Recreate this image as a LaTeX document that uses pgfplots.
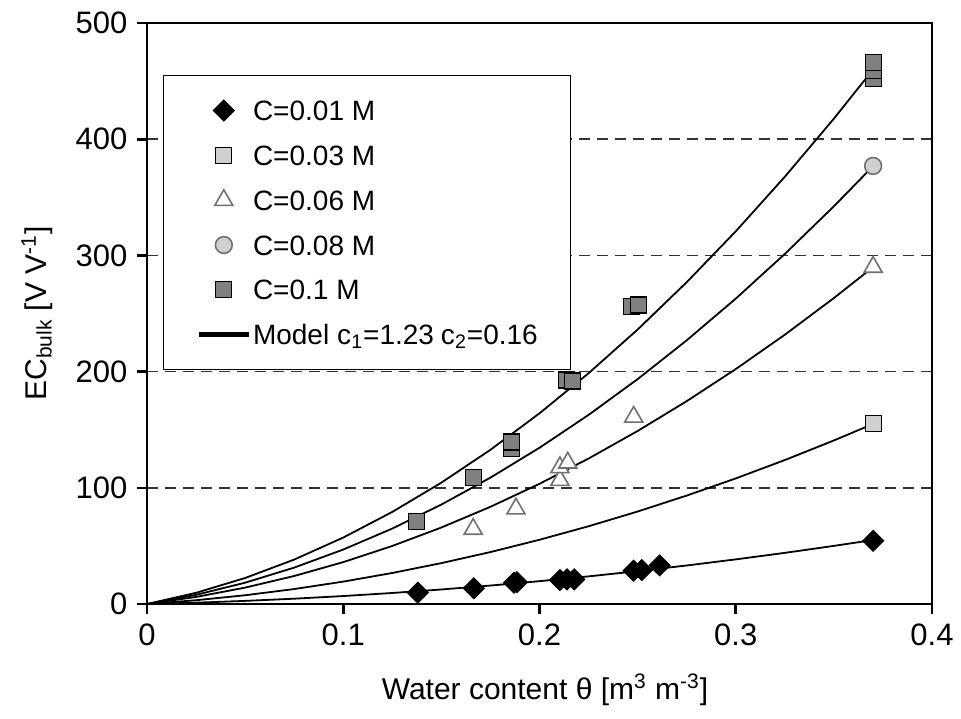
\documentclass[border=0pt]{standalone}
\usepackage{fontspec}
\setmainfont{Liberation Sans}
\usepackage{pgfplots}
\usepackage{pgfplotstable}
\pgfplotsset{compat=1.18}
\usetikzlibrary{calc}

\definecolor{darkgr}{HTML}{707070}
\definecolor{lightgr}{HTML}{D0D0D0}
\definecolor{midgr}{HTML}{808080}
\definecolor{gridgr}{HTML}{333333}

% measured points
\pgfplotstableread{
x y
0.1380 9.7
0.1665 13.5
0.1870 18.3
0.1885 18.8
0.2104 20.6
0.2140 21.2
0.2177 21.2
0.2479 28.7
0.2521 29.2
0.2612 33.2
0.3700 54.4
}\cA
\pgfplotstableread{
x y
0.3700 155
}\cB
\pgfplotstableread{
x y
0.1662 64.5
0.1880 82.0
0.2104 106.6
0.2104 117.5
0.2144 121.5
0.2480 161.0
0.3700 290.0
}\cC
\pgfplotstableread{
x y
0.3700 377
}\cD
\pgfplotstableread{
x y
0.1373 70.8
0.1662 108.9
0.1857 134.0
0.1857 139.5
0.2139 192.8
0.2168 191.9
0.2470 255.9
0.2503 257.3
0.3700 452
0.3700 459
0.3700 466
}\cE

% model curves, one column per concentration
\pgfplotstableread{
x m1 m2 m3 m4 m5
0.000 0.00 0.00 0.00 0.00 0.00
0.025 1.15 3.25 6.08 7.90 9.64
0.050 2.68 7.54 14.11 18.34 22.38
0.075 4.58 12.88 24.10 31.33 38.24
0.100 6.85 19.27 36.05 46.87 57.19
0.125 9.49 26.71 49.97 64.95 79.26
0.150 12.51 35.19 65.83 85.57 104.43
0.175 15.89 44.72 83.66 108.75 132.72
0.200 19.65 55.30 103.45 134.47 164.11
0.225 23.78 66.92 125.19 162.73 198.60
0.250 28.28 79.59 148.90 193.54 236.20
0.275 33.16 93.31 174.56 226.90 276.92
0.300 38.41 108.07 202.18 262.81 320.73
0.325 44.02 123.89 231.76 301.26 367.66
0.350 50.02 140.75 263.30 342.25 417.69
0.370 55.08 154.99 289.95 376.88 459.95
}\model

\begin{document}
\fontsize{14}{16.8}\selectfont
\begin{tikzpicture}
\begin{axis}[
  name=ax,
  scale only axis,
  width=392.5pt, height=290.5pt,
  xmin=0, xmax=0.4, ymin=0, ymax=500,
  xtick={0,0.1,0.2,0.3,0.4},
  xticklabels={0,0.1,0.2,0.3,0.4},
  ytick={0,100,...,500},
  tick pos=left, tick align=outside,
  major tick length=5pt,
  axis line style={line width=1.3pt},
  every tick/.style={black, line width=1.3pt},
  ymajorgrids,
  grid style={gridgr, line width=0.75pt, dash pattern=on 5.4pt off 3.6pt},
  /pgf/number format/assume math mode=true,
  ticklabel style={font=\fontsize{15.5}{18}\selectfont},
  label style={font=\fontsize{15}{18}\selectfont},
  xlabel={Water content θ [m\textsuperscript{3} m\textsuperscript{-3}]},
  ylabel={EC\textsubscript{bulk} [V V\textsuperscript{-1}]},
  xlabel style={at={(axis description cs:0.507,-0.148)}, anchor=center},
  ylabel style={at={(axis description cs:-0.14,0.5)}, anchor=center},
  legend cell align=left,
  legend image code/.code={
    \path (0pt,0pt) (25pt,0pt);
    \draw[mark repeat=2,mark phase=2,#1] plot coordinates {(0pt,0pt) (12.5pt,0pt) (25pt,0pt)};
  },
  legend style={at={(axis description cs:0.0204,0.9105)}, anchor=north west,
    draw=black, line width=0.6pt, fill=white,
    inner xsep=16.5pt, inner ysep=11pt,
    row sep=9.4pt, column sep=1pt,
    nodes={inner sep=0pt, text height=11.5pt, text depth=1.5pt},
    font=\fontsize{14}{16.8}\selectfont},
]
% model lines first, so the symbols sit on top
\addplot[black, line width=0.9pt, forget plot] table[x=x, y=m1] {\model};
\addplot[black, line width=0.9pt, forget plot] table[x=x, y=m2] {\model};
\addplot[black, line width=0.9pt, forget plot] table[x=x, y=m3] {\model};
\addplot[black, line width=0.9pt, forget plot] table[x=x, y=m4] {\model};
\addplot[black, line width=0.9pt, forget plot] table[x=x, y=m5] {\model};

\addplot[only marks, mark=square*, mark size=3.7pt,
  mark options={rotate=45, fill=black, draw=black, line width=0.5pt}] table {\cA};
\addlegendentry{C=0.01 M}
\addplot[only marks, mark=square*, mark size=4pt,
  mark options={fill=lightgr, draw=black, line width=0.6pt}] table {\cB};
\addlegendentry{C=0.03 M}
\addplot[only marks, mark=triangle*, mark size=5.2pt,
  mark options={fill=white, draw=darkgr, line width=0.8pt}] table {\cC};
\addlegendentry{C=0.06 M}
\addplot[only marks, mark=*, mark size=4.2pt,
  mark options={fill=lightgr, draw=darkgr, line width=0.8pt}] table {\cD};
\addlegendentry{C=0.08 M}
\addplot[only marks, mark=square*, mark size=4pt,
  mark options={fill=midgr, draw=black, line width=0.6pt}] table {\cE};
\addlegendentry{C=0.1 M}
\addlegendimage{black, line width=2.2pt}
\addlegendentry{Model\hspace{4pt}c\textsubscript{1}=1.23\hspace{3.5pt}c\textsubscript{2}=0.16}
\end{axis}
\pgfresetboundingbox
\path ($(ax.south west)+(-73.5pt,-57pt)$) rectangle ($(ax.north east)+(14.5pt,11.5pt)$);
\end{tikzpicture}
\end{document}
